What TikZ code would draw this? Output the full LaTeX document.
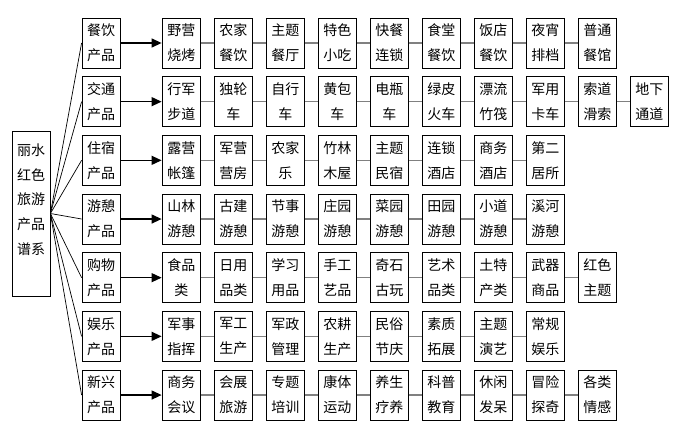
\documentclass[tikz,border=0pt]{standalone}
\usepackage{fontspec}
\newfontfamily\cjk{Noto Sans CJK SC}
\usetikzlibrary{arrows.meta}
\definecolor{lk}{HTML}{808080}
\begin{document}
\begin{tikzpicture}[x=1pt,y=-1pt,
  box/.style={draw=black,line width=0.8pt,fill=white,minimum width=38.5pt,minimum height=50pt,inner sep=0pt,align=center,font=\cjk\fontsize{14pt}{25pt}\selectfont},
  rootline/.style={draw=black,line width=0.7pt},
  arr/.style={draw=black,line width=1.3pt,-{Triangle[length=10pt,width=9pt]}},
  link/.style={draw=lk,line width=1.5pt}]
\useasboundingbox (0,0) rectangle (684,430);
\node[draw=black,line width=0.8pt,minimum width=38pt,minimum height=165pt,inner sep=0pt] (root) at (31,213.5) {};
\node[align=center,inner sep=0pt,font=\cjk\fontsize{14pt}{24.75pt}\selectfont] (roottext) at (31,199.5) {丽水\\红色\\旅游\\产品\\谱系};
\foreach \r/\cat/\items in {
 0/{餐饮\\产品}/{野营\\烧烤,农家\\餐饮,主题\\餐厅,特色\\小吃,快餐\\连锁,食堂\\餐饮,饭店\\餐饮,夜宵\\排档,普通\\餐馆},
 1/{交通\\产品}/{行军\\步道,独轮\\车,自行\\车,黄包\\车,电瓶\\车,绿皮\\火车,漂流\\竹筏,军用\\卡车,索道\\滑索,地下\\通道},
 2/{住宿\\产品}/{露营\\帐篷,军营\\营房,农家\\乐,竹林\\木屋,主题\\民宿,连锁\\酒店,商务\\酒店,第二\\居所},
 3/{游憩\\产品}/{山林\\游憩,古建\\游憩,节事\\游憩,庄园\\游憩,菜园\\游憩,田园\\游憩,小道\\游憩,溪河\\游憩},
 4/{购物\\产品}/{食品\\类,日用\\品类,学习\\用品,手工\\艺品,奇石\\古玩,艺术\\品类,土特\\产类,武器\\商品,红色\\主题},
 5/{娱乐\\产品}/{军事\\指挥,军工\\生产,军政\\管理,农耕\\生产,民俗\\节庆,素质\\拓展,主题\\演艺,常规\\娱乐},
 6/{新兴\\产品}/{商务\\会议,会展\\旅游,专题\\培训,康体\\运动,养生\\疗养,科普\\教育,休闲\\发呆,冒险\\探奇,各类\\情感}}{
  \pgfmathsetmacro\yy{43+58.67*\r}
  \node[box,minimum width=38pt] (c\r) at (101,\yy) {\cat};
  \draw[rootline] (root.east) -- (c\r.west);
  \foreach \t [count=\i from 0] in \items {
    \node[box] (n\r-\i) at ({181.25+52*\i},\yy) {\t};
    \ifnum\i=0
      \draw[arr] (c\r.east) -- (n\r-\i.west);
    \else
      \pgfmathtruncatemacro\j{\i-1}
      \draw[link] (n\r-\j.east) -- (n\r-\i.west);
    \fi
  }
}
\end{tikzpicture}
\end{document}
